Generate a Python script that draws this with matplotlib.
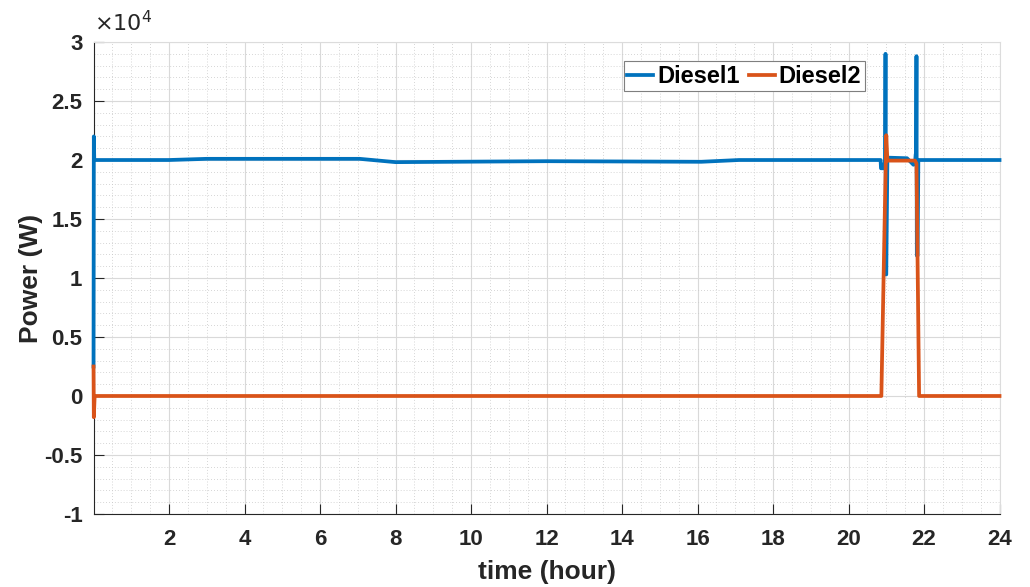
import numpy as np
import matplotlib

matplotlib.use("Agg")
import matplotlib.pyplot as plt
from matplotlib.ticker import FuncFormatter, MultipleLocator

# Diesel1 output power (W) vs time (hour)
diesel1_t = [0.0, 0.008, 0.02, 2.0, 3.0, 7.05, 8.0, 12.0, 16.1, 17.1, 20.85, 20.86,
             20.93, 20.97, 20.98, 20.99, 21.0, 21.03, 21.55, 21.72, 21.76, 21.78,
             21.79, 21.80, 21.81, 21.83, 21.85, 24.0]
diesel1_p = [2500, 22000, 20000, 20000, 20100, 20100, 19820, 19900, 19850, 20000, 20000, 19300,
             19300, 20000, 29000, 10300, 10300, 20200, 20150, 19600, 19700, 20500,
             20500, 28800, 11900, 11900, 20000, 20000]

# Diesel2 output power (W) vs time (hour)
diesel2_t = [0.0, 0.008, 0.03, 20.87, 21.0, 21.03, 21.76, 21.80, 21.87, 24.0]
diesel2_p = [2500, -1800, 0, 0, 22100, 19950, 19950, 19700, 0, 0]

blue = "#0072BD"
orange = "#D95319"
ink = "#262626"
font = ["Liberation Sans", "DejaVu Sans"]
plt.rcParams["font.family"] = font

fig = plt.figure(figsize=(10.30, 5.87), dpi=100)
ax = fig.add_axes([0.0908, 0.1244, 0.8796, 0.804])

ax.plot(diesel1_t, diesel1_p, color=blue, linewidth=2.7, label="Diesel1", clip_on=False, zorder=3)
ax.plot(diesel2_t, diesel2_p, color=orange, linewidth=2.7, label="Diesel2", clip_on=False, zorder=3)

ax.set_xlim(0, 24)
ax.set_ylim(-10000, 30000)
ax.set_xticks(np.arange(2, 25, 2))
ax.set_yticks(np.arange(-10000, 30001, 5000))
ax.xaxis.set_minor_locator(MultipleLocator(0.5))
ax.yaxis.set_minor_locator(MultipleLocator(1000))
ax.yaxis.set_major_formatter(FuncFormatter(lambda v, _: f"{v / 1e4:g}"))

ax.grid(True, which="major", color="#d9d9d9", linewidth=0.8)
ax.grid(True, which="minor", color="#c8c8c8", linewidth=0.6, linestyle=(0, (1, 2.5)))
ax.set_axisbelow(True)

for side in ("left", "bottom"):
    ax.spines[side].set_color(ink)
    ax.spines[side].set_linewidth(0.8)
for side in ("top", "right"):
    ax.spines[side].set_color("#dcdcdc")
    ax.spines[side].set_linewidth(0.8)

ax.tick_params(which="major", direction="in", length=7, width=0.8, color=ink,
               labelsize=16, pad=8)
ax.tick_params(axis="x", which="major", pad=11)
ax.tick_params(which="minor", length=0)
for lbl in ax.get_xticklabels() + ax.get_yticklabels():
    lbl.set_fontweight("bold")
    lbl.set_color(ink)

ax.set_xlabel("time (hour)", fontsize=19, fontweight="bold", color=ink, labelpad=7)
ax.set_ylabel("Power (W)", fontsize=19, fontweight="bold", color=ink, labelpad=1)

ax.text(0.0, 1.012, r"$\times10^{4}$", transform=ax.transAxes, fontsize=16,
        color=ink, ha="left", va="bottom")

leg = ax.legend(loc="upper right", bbox_to_anchor=(0.851, 0.959), ncol=2,
                prop={"family": font, "weight": "bold", "size": 17},
                handlelength=1.1, handletextpad=0.15, columnspacing=0.4,
                borderpad=0.15, borderaxespad=0.0, fancybox=False, framealpha=1.0)
leg.get_frame().set_edgecolor("#7f7f7f")
leg.get_frame().set_linewidth(0.8)

fig.savefig("out.png", dpi=100)
plt.close(fig)
